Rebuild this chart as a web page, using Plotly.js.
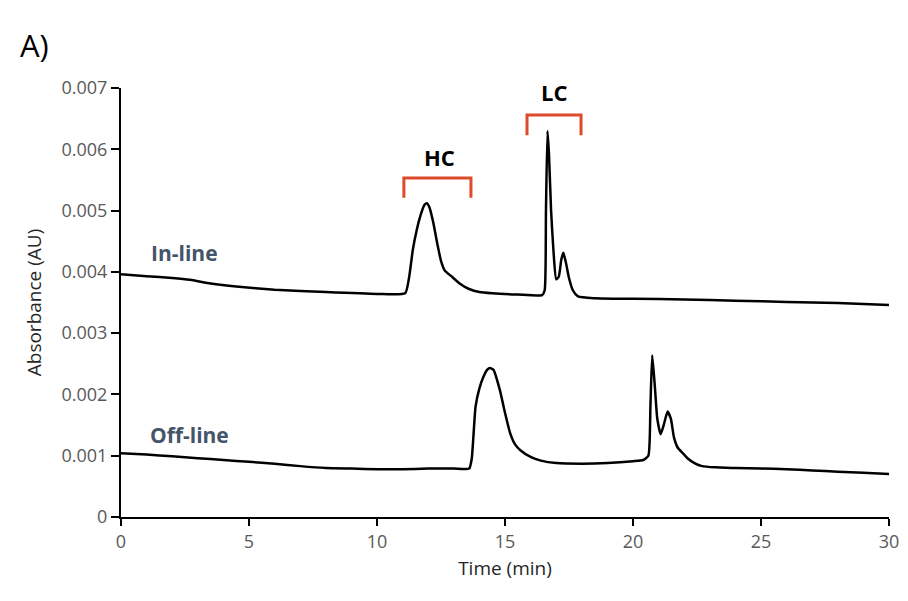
<!DOCTYPE html>
<html>
<head>
<meta charset="utf-8">
<script src="https://cdn.plot.ly/plotly-3.0.1.min.js"></script>
<style>html,body{margin:0;padding:0;background:#fff;}#chart{width:908px;height:601px;}</style>
</head>
<body>
<div id="chart"></div>
<script>
// In-line trace (time in min, absorbance in AU)
const inlineTime = [0, 1, 2, 2.7, 3.5, 4.5, 6, 8, 10, 11.1, 11.25, 11.4, 11.55, 11.7, 11.85, 11.95, 12.05, 12.2, 12.35, 12.5, 12.65, 12.9, 13.2, 13.6, 14.0, 14.5, 15.5, 16.45, 16.55, 16.6, 16.66, 16.72, 16.8, 16.9, 17.0, 17.1, 17.2, 17.28, 17.38, 17.5, 17.65, 17.85, 18.5, 20, 22, 24, 26, 28, 30];
const inlineAbs  = [0.00396, 0.00393, 0.00390, 0.00387, 0.00381, 0.00376, 0.00371, 0.00367, 0.00364, 0.00365, 0.00390, 0.00436, 0.00468, 0.00492, 0.00509, 0.00512, 0.00505, 0.00480, 0.00447, 0.00418, 0.00402, 0.00393, 0.00382, 0.00372, 0.00367, 0.00365, 0.00363, 0.00362, 0.00370, 0.00500, 0.00630, 0.00590, 0.00500, 0.00430, 0.00388, 0.00392, 0.00420, 0.00431, 0.00415, 0.00390, 0.00370, 0.00360, 0.00357, 0.00356, 0.00355, 0.00353, 0.00351, 0.00349, 0.00346];

// Off-line trace
const offlineTime = [0, 1, 2, 3, 4, 5, 6, 7, 8, 9, 10, 11, 12, 13, 13.6, 13.7, 13.85, 14.0, 14.15, 14.3, 14.4, 14.55, 14.8, 15.0, 15.2, 15.4, 15.6, 16.0, 16.4, 17, 18, 19, 20, 20.4, 20.6, 20.68, 20.75, 20.85, 20.95, 21.08, 21.2, 21.35, 21.48, 21.6, 21.75, 21.95, 22.15, 22.4, 22.7, 23.2, 24, 25, 26, 27, 28, 29, 30];
const offlineAbs  = [0.00104, 0.00102, 0.00099, 0.00096, 0.00093, 0.00090, 0.00087, 0.00083, 0.00080, 0.00079, 0.00078, 0.00078, 0.00079, 0.00079, 0.00079, 0.00095, 0.00180, 0.00210, 0.00228, 0.00240, 0.00243, 0.00240, 0.00207, 0.00170, 0.00137, 0.00118, 0.00109, 0.00098, 0.00092, 0.00088, 0.00087, 0.00088, 0.00091, 0.00093, 0.00100, 0.00180, 0.00264, 0.00215, 0.00160, 0.00135, 0.00150, 0.00172, 0.00160, 0.00130, 0.00113, 0.00104, 0.00095, 0.00088, 0.00083, 0.00081, 0.00080, 0.00079, 0.00078, 0.00076, 0.00074, 0.00072, 0.00070];

const yTickVals = [0, 0.001, 0.002, 0.003, 0.004, 0.005, 0.006, 0.007];
const yTickText = ["0", "0.001", "0.002", "0.003", "0.004", "0.005", "0.006", "0.007"];
const xTickVals = [0, 5, 10, 15, 20, 25, 30];

const FONT = "Open Sans, Noto Sans, sans-serif";

const traces = [
  {x: inlineTime, y: inlineAbs, type: 'scatter', mode: 'lines', name: 'In-line',
   line: {color: '#000000', width: 2.5, shape: 'spline', smoothing: 0.5}},
  {x: offlineTime, y: offlineAbs, type: 'scatter', mode: 'lines', name: 'Off-line',
   line: {color: '#000000', width: 2.5, shape: 'spline', smoothing: 0.5}}
];

const red = '#DD4B2B';
const layout = {
  width: 908, height: 601,
  margin: {l: 121, r: 19, t: 88, b: 84},
  paper_bgcolor: '#ffffff', plot_bgcolor: '#ffffff',
  showlegend: false,
  font: {family: FONT, color: '#595959'},
  xaxis: {
    range: [0, 30], tickvals: xTickVals, ticks: 'outside', ticklen: 7, tickwidth: 2, tickcolor: '#000',
    showline: true, linecolor: '#000', linewidth: 2, showgrid: false, zeroline: false,
    tickfont: {size: 18, color: '#595959', family: FONT},
    title: {text: 'Time (min)', font: {size: 19, color: '#262626', family: FONT}, standoff: 10}
  },
  yaxis: {
    range: [0, 0.007], tickvals: yTickVals, ticktext: yTickText, ticks: 'outside', ticklen: 8, tickwidth: 2, tickcolor: '#000',
    showline: true, linecolor: '#000', linewidth: 2, showgrid: false, zeroline: false,
    tickfont: {size: 18, color: '#595959', family: FONT},
    title: {text: 'Absorbance (AU)', font: {size: 19, color: '#262626', family: FONT}, standoff: 15}
  },
  shapes: [
    {type: 'path', xref: 'x', yref: 'y', path: 'M 11.05 0.00521 L 11.05 0.00553 L 13.67 0.00553 L 13.67 0.00521',
     line: {color: red, width: 3}},
    {type: 'path', xref: 'x', yref: 'y', path: 'M 15.86 0.00623 L 15.86 0.00656 L 17.97 0.00656 L 17.97 0.00623',
     line: {color: red, width: 3}}
  ],
  annotations: [
    {text: 'A)', xref: 'paper', yref: 'paper', x: (18 - 121) / 768, y: 1 + (88 - 45) / 429, xanchor: 'left', yanchor: 'middle',
     showarrow: false, font: {size: 31, color: '#000', family: FONT}},
    {text: '<b>In-line</b>', xref: 'x', yref: 'y', x: 1.1, y: 0.00431, xanchor: 'left', yanchor: 'middle',
     showarrow: false, font: {size: 21, color: '#44546A', family: FONT}},
    {text: '<b>Off-line</b>', xref: 'x', yref: 'y', x: 1.05, y: 0.00134, xanchor: 'left', yanchor: 'middle',
     showarrow: false, font: {size: 21, color: '#44546A', family: FONT}},
    {text: '<b>HC</b>', xref: 'x', yref: 'y', x: 12.45, y: 0.00588, xanchor: 'center', yanchor: 'middle',
     showarrow: false, font: {size: 22, color: '#000', family: FONT}},
    {text: '<b>LC</b>', xref: 'x', yref: 'y', x: 16.9, y: 0.00693, xanchor: 'center', yanchor: 'middle',
     showarrow: false, font: {size: 22, color: '#000', family: FONT}}
  ]
};

Plotly.newPlot('chart', traces, layout, {displayModeBar: false, staticPlot: true});
</script>
</body>
</html>
